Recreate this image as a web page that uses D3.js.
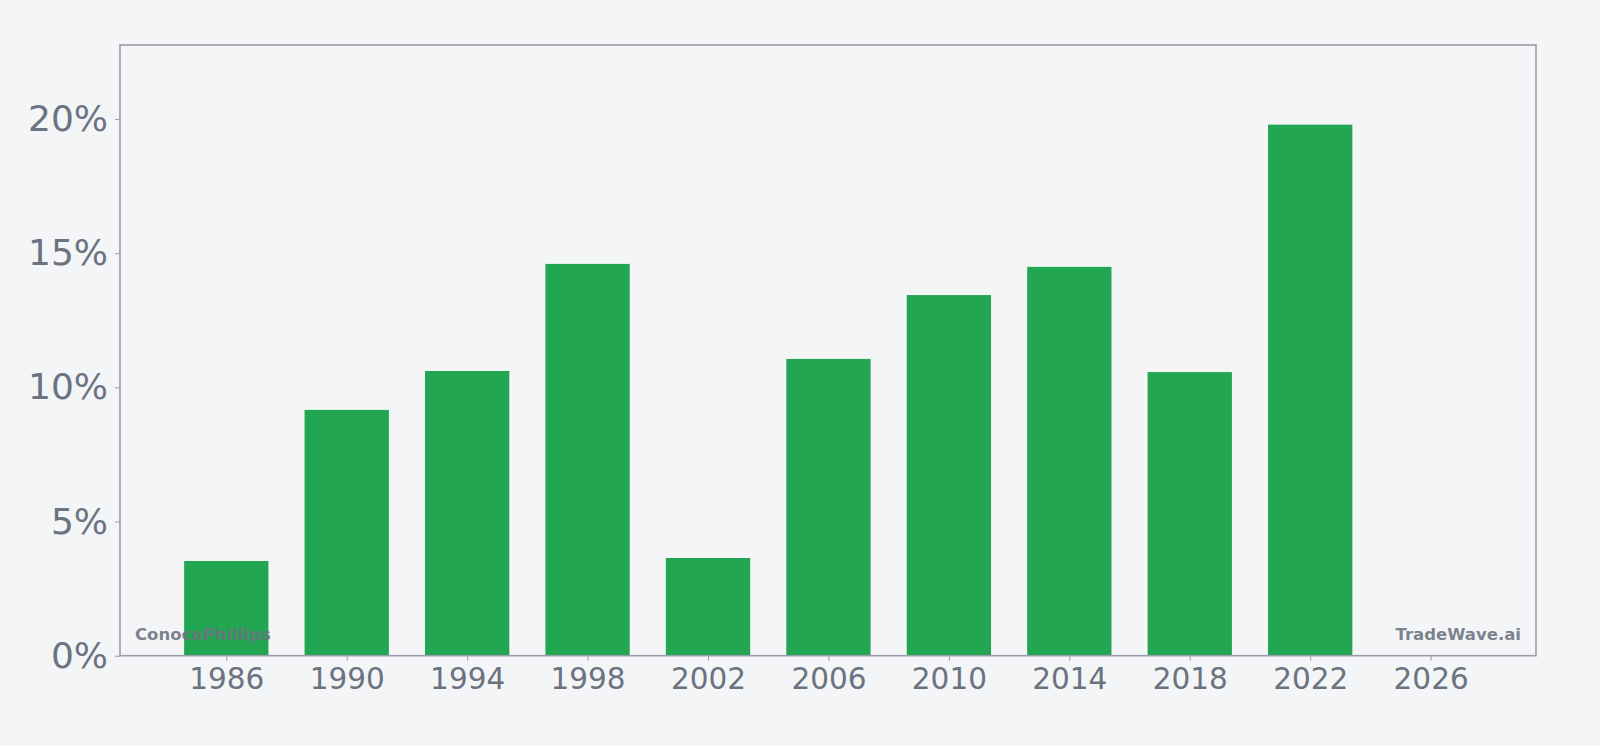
<!DOCTYPE html>
<html>
<head>
<meta charset="utf-8">
<script src="https://cdn.jsdelivr.net/npm/d3@7"></script>
<style>
  html, body { margin: 0; padding: 0; background: #f4f5f7; }
  svg { display: block; }
</style>
</head>
<body>
<svg id="chart" width="1600" height="746"></svg>
<script>
const years = [1986, 1990, 1994, 1998, 2002, 2006, 2010, 2014, 2018, 2022];
const values = [3.53, 9.16, 10.61, 14.60, 3.64, 11.06, 13.44, 14.49, 10.57, 19.79];
const xTicks = [1986, 1990, 1994, 1998, 2002, 2006, 2010, 2014, 2018, 2022, 2026];
const yTicks = [0, 5, 10, 15, 20];
const leftLabel = "ConocoPhillips";
const rightLabel = "TradeWave.ai";

const W = 1600, H = 746;
const m = { left: 120, right: 64, top: 45, bottom: 90.3 };
const svg = d3.select("#chart");
svg.append("rect").attr("width", W).attr("height", H).attr("fill", "#f4f5f7");

const x = d3.scaleLinear().domain([1982.47, 2029.5]).range([m.left, W - m.right]);
const y = d3.scaleLinear().domain([0, d3.max(values) * 1.15]).range([H - m.bottom, m.top]);

const data = years.map((yr, i) => ({ yr, v: values[i] }));
const halfW = 1.4;

svg.append("g").selectAll("rect").data(data).join("rect")
  .attr("x", d => x(d.yr - halfW))
  .attr("width", d => x(d.yr + halfW) - x(d.yr - halfW))
  .attr("y", d => y(d.v))
  .attr("height", d => y(0) - y(d.v))
  .attr("fill", "#22a652");

const font = "DejaVu Sans, sans-serif";
const textCol = "#6b7280";
const lineCol = "#9a9dab";

const xAxis = svg.append("g")
  .attr("transform", `translate(0,${y(0)})`)
  .call(d3.axisBottom(x).tickValues(xTicks).tickFormat(d3.format("d")).tickSize(5).tickPadding(7));
xAxis.selectAll("text").attr("font-family", font).attr("font-size", 29.5).attr("fill", textCol);

const yAxis = svg.append("g")
  .attr("transform", `translate(${m.left},0)`)
  .call(d3.axisLeft(y).tickValues(yTicks).tickFormat(d => d + "%").tickSize(5).tickPadding(7));
yAxis.selectAll("text").attr("font-family", font).attr("font-size", 36).attr("fill", textCol);

[xAxis, yAxis].forEach(a => {
  a.select(".domain").remove();
  a.selectAll(".tick line").attr("stroke", lineCol).attr("stroke-width", 1);
});

svg.append("rect")
  .attr("x", m.left).attr("y", m.top)
  .attr("width", W - m.right - m.left).attr("height", y(0) - m.top)
  .attr("fill", "none").attr("stroke", lineCol).attr("stroke-width", 1.6);

svg.append("text")
  .attr("x", m.left + 15).attr("y", y(0) - 15.5)
  .attr("font-family", font).attr("font-size", 16.5).attr("font-weight", "bold")
  .attr("fill", textCol).attr("fill-opacity", 0.9)
  .text(leftLabel);

svg.append("text")
  .attr("x", W - m.right - 15).attr("y", y(0) - 15.5)
  .attr("text-anchor", "end")
  .attr("font-family", font).attr("font-size", 16.5).attr("font-weight", "bold")
  .attr("fill", textCol).attr("fill-opacity", 0.9)
  .text(rightLabel);
</script>
</body>
</html>
